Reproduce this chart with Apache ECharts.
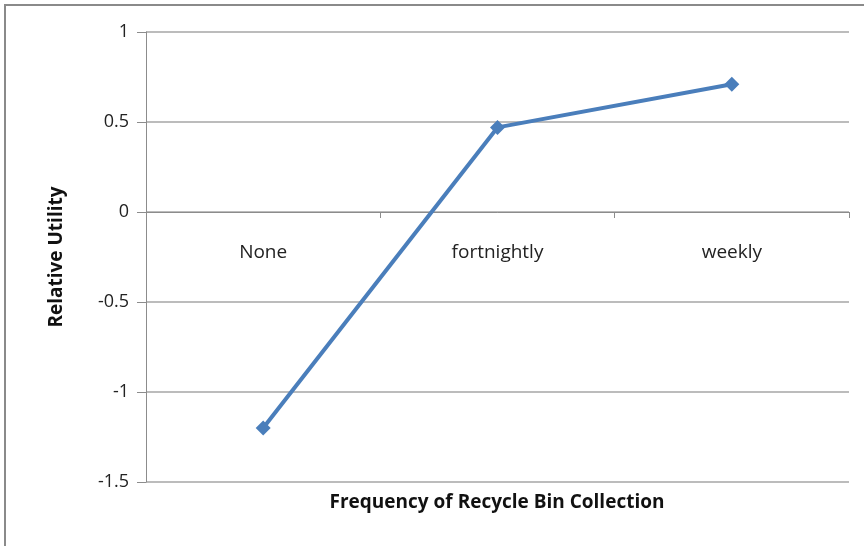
<!DOCTYPE html>
<html>
<head>
<meta charset="utf-8">
<script src="https://cdn.jsdelivr.net/npm/echarts@6/dist/echarts.min.js"></script>
<style>
  html, body { margin: 0; padding: 0; background: #fff; }
  #chart { width: 864px; height: 546px; }
</style>
</head>
<body>
<div id="chart"></div>
<script>
const categories = ['None', 'fortnightly', 'weekly'];
const utility = [-1.2, 0.47, 0.71];
const yTicks = { min: -1.5, max: 1, interval: 0.5 };

const chart = echarts.init(document.getElementById('chart'));
const font = '"Open Sans", Lato, sans-serif';

chart.setOption({
  backgroundColor: '#ffffff',
  animation: false,
  grid: { left: 146, right: 15, top: 32, bottom: 64 },
  xAxis: {
    type: 'category',
    data: categories,
    boundaryGap: true,
    axisLine: { onZero: true, lineStyle: { color: '#8c8c8c', width: 1 } },
    axisTick: { show: true, length: 6, lineStyle: { color: '#8c8c8c' } },
    // labels sit just below the zero line, not at the grid bottom
    axisLabel: { margin: -239, fontFamily: font, fontSize: 19, color: '#222' },
    splitLine: { show: false }
  },
  yAxis: {
    type: 'value',
    min: yTicks.min,
    max: yTicks.max,
    interval: yTicks.interval,
    name: 'Relative Utility',
    nameLocation: 'middle',
    nameGap: 80,
    nameRotate: 90,
    nameTextStyle: { fontFamily: font, fontSize: 19, fontWeight: 'bold', color: '#111' },
    axisLine: { show: true, lineStyle: { color: '#8c8c8c', width: 1 } },
    axisTick: { show: true, length: 9, lineStyle: { color: '#8c8c8c' } },
    axisLabel: { margin: 17, fontFamily: font, fontSize: 18, color: '#222' },
    splitLine: { lineStyle: { color: '#a6a6a6', width: 1.5 } }
  },
  graphic: [
    {
      type: 'rect',
      shape: { x: 5, y: 5, width: 900, height: 600 },
      style: { fill: 'none', stroke: '#8a8a8a', lineWidth: 2 },
      silent: true
    },
    {
      type: 'text',
      x: 497,
      y: 503,
      style: {
        text: 'Frequency of Recycle Bin Collection',
        font: 'bold 19px ' + font,
        fill: '#111',
        textAlign: 'center',
        textVerticalAlign: 'middle'
      }
    }
  ],
  series: [{
    type: 'line',
    data: utility,
    symbol: 'diamond',
    symbolSize: 15,
    lineStyle: { color: '#4a7ebb', width: 4 },
    itemStyle: { color: '#4a7ebb' }
  }]
});
</script>
</body>
</html>
